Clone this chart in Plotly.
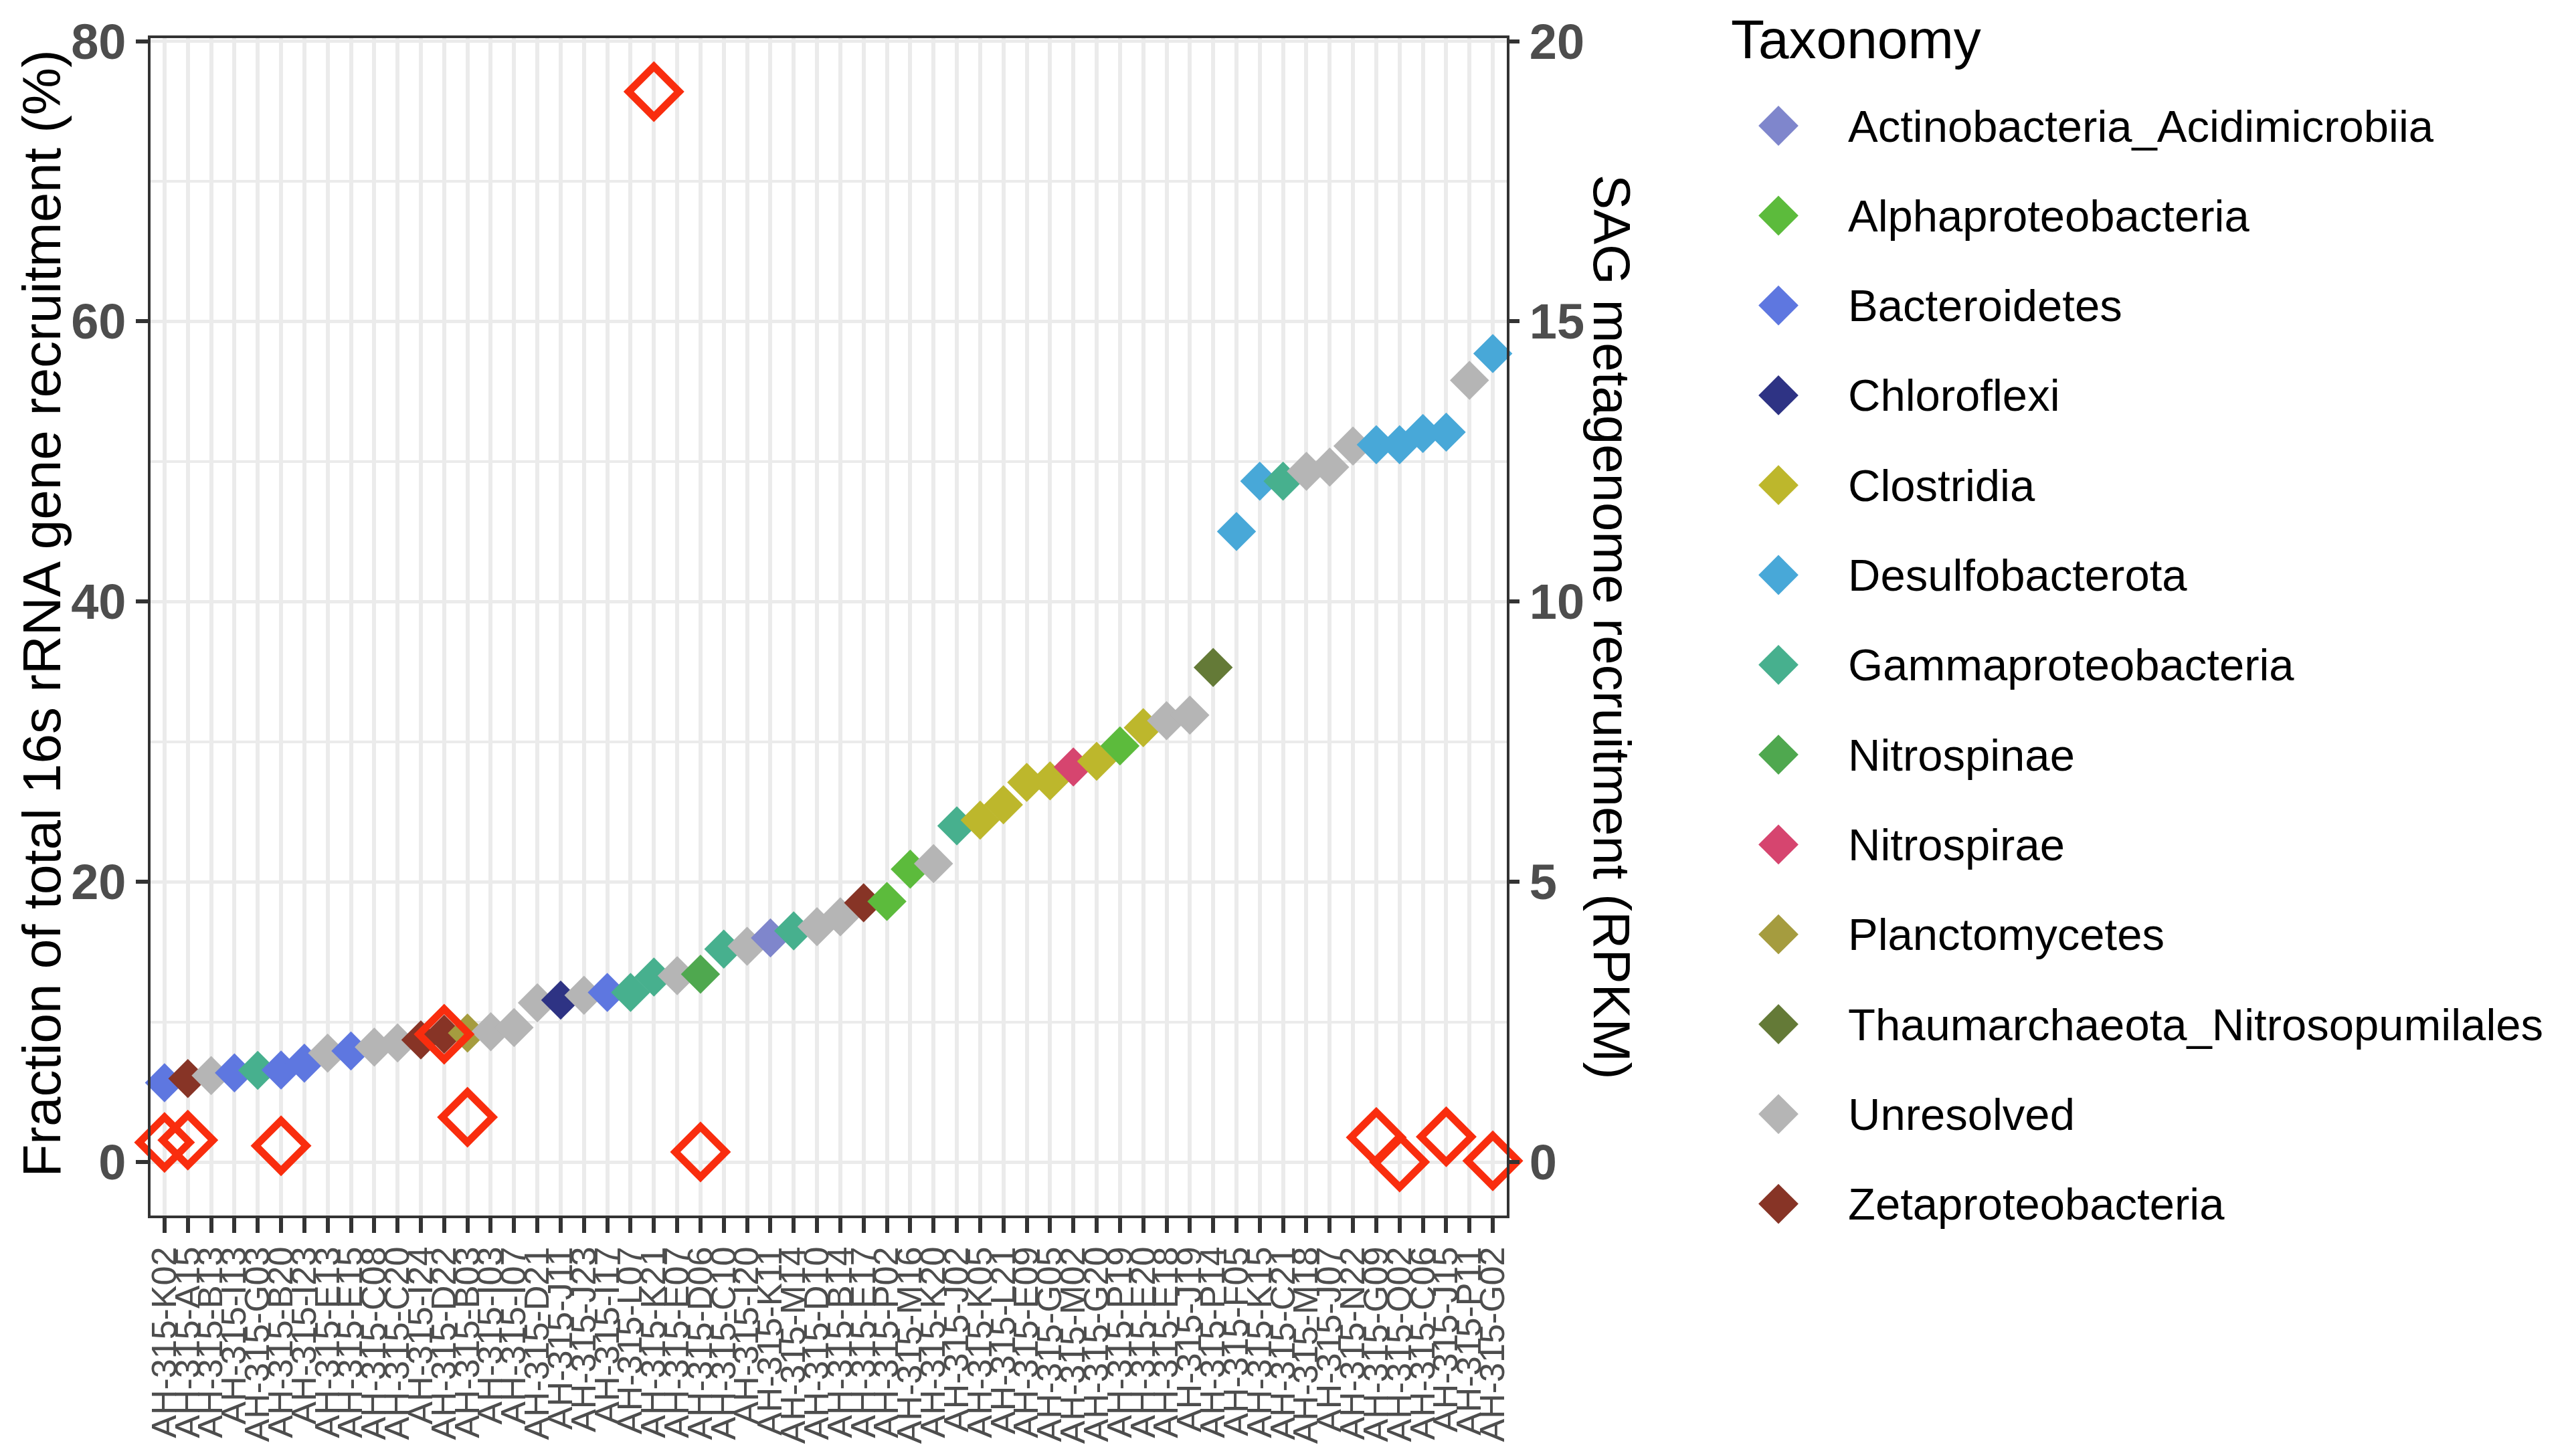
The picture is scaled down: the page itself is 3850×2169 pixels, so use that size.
import plotly.graph_objects as go

W, H = 3850, 2169

sag_ids = [
    "AH-315-K02", "AH-315-A15", "AH-315-B13", "AH-315-I13", "AH-315-G03",
    "AH-315-B20", "AH-315-I23", "AH-315-E13", "AH-315-E15", "AH-315-C08",
    "AH-315-C20", "AH-315-I24", "AH-315-D22", "AH-315-B03", "AH-315-I03",
    "AH-315-I07", "AH-315-D21", "AH-315-J11", "AH-315-J23", "AH-315-I17",
    "AH-315-L07", "AH-315-K21", "AH-315-E07", "AH-315-D06", "AH-315-C10",
    "AH-315-I20", "AH-315-K11", "AH-315-M14", "AH-315-D10", "AH-315-B14",
    "AH-315-E17", "AH-315-P02", "AH-315-M16", "AH-315-K20", "AH-315-J02",
    "AH-315-K05", "AH-315-L21", "AH-315-E09", "AH-315-G05", "AH-315-M02",
    "AH-315-G20", "AH-315-P19", "AH-315-E20", "AH-315-E18", "AH-315-J19",
    "AH-315-P14", "AH-315-F05", "AH-315-K15", "AH-315-C21", "AH-315-M18",
    "AH-315-J07", "AH-315-N22", "AH-315-G09", "AH-315-O02", "AH-315-C06",
    "AH-315-J15", "AH-315-P11", "AH-315-G02",
]

taxonomy = [
    "Bacteroidetes", "Zetaproteobacteria", "Unresolved", "Bacteroidetes", "Gammaproteobacteria",
    "Bacteroidetes", "Bacteroidetes", "Unresolved", "Bacteroidetes", "Unresolved",
    "Unresolved", "Zetaproteobacteria", "Zetaproteobacteria", "Planctomycetes", "Unresolved",
    "Unresolved", "Unresolved", "Chloroflexi", "Unresolved", "Bacteroidetes",
    "Gammaproteobacteria", "Gammaproteobacteria", "Unresolved", "Nitrospinae", "Gammaproteobacteria",
    "Unresolved", "Actinobacteria_Acidimicrobiia", "Gammaproteobacteria", "Unresolved", "Unresolved",
    "Zetaproteobacteria", "Alphaproteobacteria", "Alphaproteobacteria", "Unresolved", "Gammaproteobacteria",
    "Clostridia", "Clostridia", "Clostridia", "Clostridia", "Nitrospirae",
    "Clostridia", "Alphaproteobacteria", "Clostridia", "Unresolved", "Unresolved",
    "Thaumarchaeota_Nitrosopumilales", "Desulfobacterota", "Desulfobacterota", "Gammaproteobacteria", "Unresolved",
    "Unresolved", "Unresolved", "Desulfobacterota", "Desulfobacterota", "Desulfobacterota",
    "Desulfobacterota", "Unresolved", "Desulfobacterota",
]

rrna_pct = [
    5.66, 5.96, 6.17, 6.36, 6.54, 6.57, 7.05, 7.77, 7.93, 8.2,
    8.5, 8.72, 9.12, 9.2, 9.3, 9.6, 11.36, 11.55, 11.9, 12.1,
    12.1, 13.2, 13.3, 13.4, 15.2, 15.4, 16.0, 16.5, 16.8, 17.5,
    18.5, 18.6, 20.9, 21.3, 24.0, 24.4, 25.5, 27.1, 27.2, 28.2,
    28.6, 29.7, 31.0, 31.5, 31.9, 35.3, 45.0, 48.6, 48.6, 49.3,
    49.6, 51.1, 51.2, 51.2, 52.0, 52.1, 55.8, 57.7,
]

rpkm = [
    0.35, 0.39, None, None, None, 0.29, None, None, None, None,
    None, None, 2.28, 0.80, None, None, None, None, None, None,
    None, 19.1, None, 0.18, None, None, None, None, None, None,
    None, None, None, None, None, None, None, None, None, None,
    None, None, None, None, None, None, None, None, None, None,
    None, None, 0.44, 0.0, None, 0.45, None, 0.02,
]

legend_order = [
    "Actinobacteria_Acidimicrobiia", "Alphaproteobacteria", "Bacteroidetes",
    "Chloroflexi", "Clostridia", "Desulfobacterota", "Gammaproteobacteria",
    "Nitrospinae", "Nitrospirae", "Planctomycetes",
    "Thaumarchaeota_Nitrosopumilales", "Unresolved", "Zetaproteobacteria",
]
legend_colors = [
    "#7f86cc", "#5cbb3c", "#5e77e0", "#2e3384", "#bdb72c", "#48a8d8",
    "#47b08e", "#4fa84f", "#d6456f", "#a59c3f", "#647a37", "#b5b5b5",
    "#873426",
]
color_map = dict(zip(legend_order, legend_colors))
RED = "#f92d0e"

FONT = "Liberation Sans, Arial, sans-serif"
GRID = "#ebebeb"
AX = "#333333"
TICKTXT = "#4d4d4d"

# panel in pixels
PL, PR, PT, PB = 217, 2244, 49, 1809

fig = go.Figure()

# RPKM (secondary axis) open diamonds, drawn first
red_x = [s for s, v in zip(sag_ids, rpkm) if v is not None]
red_y = [v for v in rpkm if v is not None]
fig.add_trace(go.Scatter(
    x=red_x, y=red_y, xaxis="x", yaxis="y2", mode="markers",
    marker=dict(symbol="diamond-open", size=58, color=RED,
                line=dict(width=11, color=RED)),
    cliponaxis=False, showlegend=False, name="RPKM",
))

# 16S fraction filled diamonds
fig.add_trace(go.Scatter(
    x=sag_ids, y=rrna_pct, xaxis="x", yaxis="y", mode="markers",
    marker=dict(symbol="diamond", size=45,
                color=[color_map[t] for t in taxonomy], line=dict(width=0)),
    cliponaxis=False, showlegend=False, name="16S",
))

# legend drawn on a pixel-space overlay axis
LEG_X, LEG_Y0, LEG_DY, LEG_TX = 2650, 180, 134.3, 2752
fig.add_trace(go.Scatter(
    x=[LEG_X] * len(legend_order),
    y=[LEG_Y0 + i * LEG_DY for i in range(len(legend_order))],
    xaxis="x3", yaxis="y3", mode="markers",
    marker=dict(symbol="diamond", size=46, color=legend_colors, line=dict(width=0)),
    cliponaxis=False, showlegend=False, hoverinfo="skip",
))

annotations = []
for i, name in enumerate(legend_order):
    annotations.append(dict(
        x=LEG_TX / W, y=1 - (LEG_Y0 + i * LEG_DY) / H, xref="paper", yref="paper",
        text=name, showarrow=False, xanchor="left", yanchor="middle",
        font=dict(family=FONT, size=67, color="#000000"),
    ))
annotations.append(dict(
    x=2578 / W, y=1 - 4 / H, xref="paper", yref="paper", text="Taxonomy",
    showarrow=False, xanchor="left", yanchor="top", borderpad=0,
    font=dict(family=FONT, size=82, color="#000000"),
))
annotations.append(dict(
    x=8 / W, y=1 - ((PT + PB) / 2 - 20) / H, xref="paper", yref="paper",
    text="Fraction of total 16s rRNA gene recruitment (%)", textangle=-90,
    showarrow=False, xanchor="left", yanchor="middle", borderpad=0,
    font=dict(family=FONT, size=80, color="#000000"),
))
annotations.append(dict(
    x=2401 / W, y=1 - ((PT + PB) / 2) / H, xref="paper", yref="paper",
    text="SAG metagenome recruitment (RPKM)", textangle=90,
    showarrow=False, xanchor="center", yanchor="middle",
    font=dict(family=FONT, size=78, color="#000000"),
))

ylo, yhi = -3.82, 80.22
fig.update_layout(
    width=W, height=H, autosize=False,
    margin=dict(l=0, r=0, t=0, b=0, pad=0),
    paper_bgcolor="white", plot_bgcolor="rgba(0,0,0,0)",
    showlegend=False,
    font=dict(family=FONT),
    annotations=annotations,
    xaxis=dict(
        domain=[PL / W, PR / W], anchor="y", type="category",
        categoryorder="array", categoryarray=sag_ids,
        range=[-0.6, len(sag_ids) - 1 + 0.6],
        tickmode="array", tickvals=sag_ids, ticktext=sag_ids,
        tickangle=-90, tickfont=dict(family=FONT, size=52, color=TICKTXT),
        ticks="outside", ticklen=22, tickwidth=5.5, tickcolor=AX,
        showgrid=True, gridcolor=GRID, gridwidth=6,
        showline=True, linecolor=AX, linewidth=3.5, mirror=True,
        zeroline=False, automargin=False, fixedrange=True,
    ),
    yaxis=dict(
        domain=[1 - PB / H, 1 - PT / H], anchor="x",
        range=[ylo, yhi], tickmode="array", tickvals=[0, 20, 40, 60, 80],
        tickfont=dict(family=FONT, size=74, color=TICKTXT, weight="bold"),
        ticks="outside", ticklen=18, tickwidth=5.5, tickcolor=AX,
        showgrid=True, gridcolor=GRID, gridwidth=5,
        minor=dict(tickvals=[10, 30, 50, 70], showgrid=True, gridcolor=GRID,
                   gridwidth=4, ticks=""),
        showline=True, linecolor=AX, linewidth=3.5, mirror=True,
        zeroline=False, automargin=False, fixedrange=True,
    ),
    yaxis2=dict(
        overlaying="y", side="right", anchor="x",
        range=[ylo / 4, yhi / 4], tickmode="array", tickvals=[0, 5, 10, 15, 20],
        tickfont=dict(family=FONT, size=74, color=TICKTXT, weight="bold"),
        ticks="outside", ticklen=18, tickwidth=5.5, tickcolor=AX,
        showgrid=False, showline=False, zeroline=False,
        automargin=False, fixedrange=True,
    ),
    xaxis3=dict(domain=[0, 1], anchor="y3", range=[0, W], visible=False,
                fixedrange=True),
    yaxis3=dict(domain=[0, 1], anchor="x3", range=[H, 0], visible=False,
                fixedrange=True),
)

fig.write_html("out.html")
